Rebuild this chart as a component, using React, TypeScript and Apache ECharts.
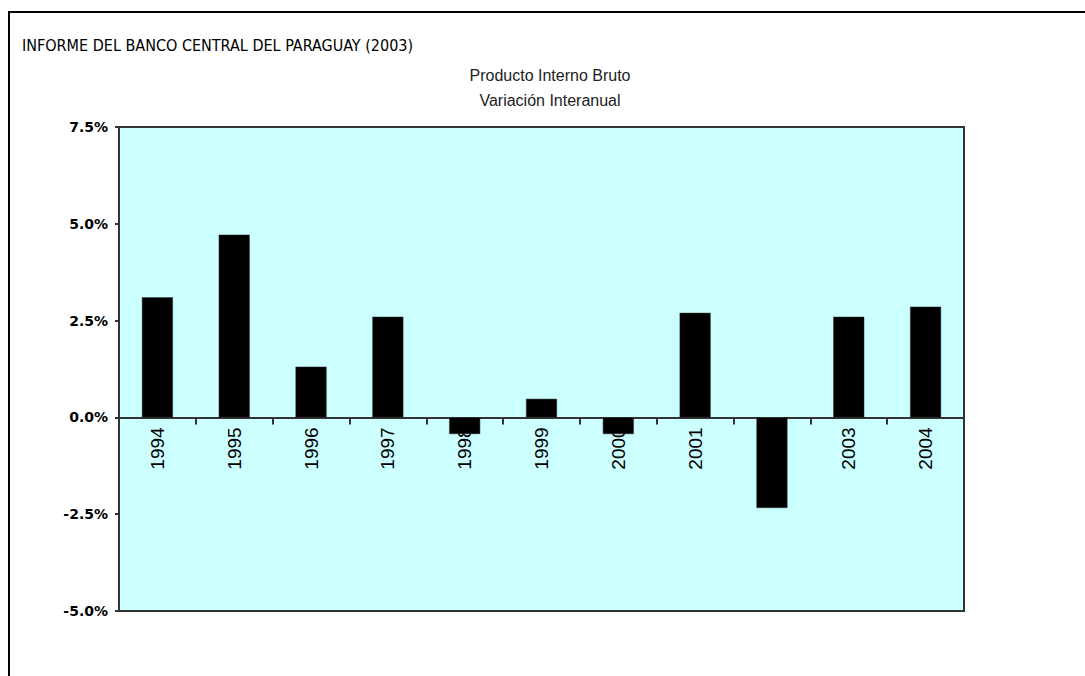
import React, { useEffect, useRef } from "react";
import * as echarts from "echarts";

const years = ["1994", "1995", "1996", "1997", "1998", "1999", "2000", "2001", "2002", "2003", "2004"];
const growth = [3.1, 4.72, 1.31, 2.6, -0.43, 0.48, -0.43, 2.7, -2.34, 2.6, 2.86];
const yTicks = { min: -5, max: 7.5, step: 2.5 };
const reportTitle = "INFORME DEL BANCO CENTRAL DEL PARAGUAY (2003)";
const chartTitle = ["Producto Interno Bruto", "Variación Interanual"];

const GRID_H = 484;

export default function App() {
  const ref = useRef<HTMLDivElement>(null);
  useEffect(() => {
    if (!ref.current) return;
    const chart = echarts.init(ref.current, null, { renderer: "svg" });
    const zeroOffset = -((0 - yTicks.min) / (yTicks.max - yTicks.min)) * GRID_H;
    chart.setOption({
      animation: false,
      backgroundColor: "#ffffff",
      graphic: [
        {
          type: "polyline",
          shape: { points: [[9, 676], [9, 12], [1085, 12]] },
          style: { stroke: "#000", lineWidth: 2, fill: null },
          silent: true,
        },
        {
          type: "text",
          x: 22,
          y: 45,
          style: {
            text: reportTitle,
            fontFamily: "'DejaVu Sans Condensed', 'DejaVu Sans'",
            fontSize: 16,
            fill: "#000",
            verticalAlign: "middle",
            align: "left",
          },
        },
        {
          type: "text",
          x: 550,
          y: 75,
          style: {
            text: chartTitle[0],
            fontFamily: "Liberation Sans",
            fontSize: 16,
            fill: "#222",
            verticalAlign: "middle",
            align: "center",
          },
        },
        {
          type: "text",
          x: 550,
          y: 100,
          style: {
            text: chartTitle[1],
            fontFamily: "Liberation Sans",
            fontSize: 16,
            fill: "#222",
            verticalAlign: "middle",
            align: "center",
          },
        },
      ],
      grid: {
        left: 119,
        top: 127,
        width: 845,
        height: GRID_H,
        show: true,
        backgroundColor: "#CCFFFF",
        borderColor: "#333",
        borderWidth: 2,
        containLabel: false,
      },
      xAxis: {
        type: "category",
        data: years,
        offset: zeroOffset,
        axisLine: { onZero: false, lineStyle: { color: "#333", width: 2 } },
        axisTick: { show: true, length: 7, lineStyle: { color: "#333", width: 2 } },
        axisLabel: {
          interval: 0,
          rotate: 90,
          margin: 10,
          fontFamily: "Liberation Sans",
          fontSize: 19,
          color: "#000",
        },
        splitLine: { show: false },
      },
      yAxis: {
        type: "value",
        min: yTicks.min,
        max: yTicks.max,
        interval: yTicks.step,
        axisLine: { show: true, lineStyle: { color: "#333", width: 2 } },
        axisTick: { show: true, length: 4, lineStyle: { color: "#333", width: 2 } },
        axisLabel: {
          formatter: (v: number) => v.toFixed(1) + "%",
          fontFamily: "DejaVu Sans",
          fontWeight: "bold",
          fontSize: 14,
          color: "#000",
          margin: 11,
        },
        splitLine: { show: false },
      },
      series: [
        {
          type: "bar",
          data: growth,
          barWidth: 31,
          itemStyle: { color: "#000", borderColor: "#333", borderWidth: 0.5 },
        },
      ],
    });
    return () => chart.dispose();
  }, []);
  return (
    <div
      ref={ref}
      style={{ position: "fixed", left: 0, top: 0, width: 1085, height: 676 }}
    />
  );
}
